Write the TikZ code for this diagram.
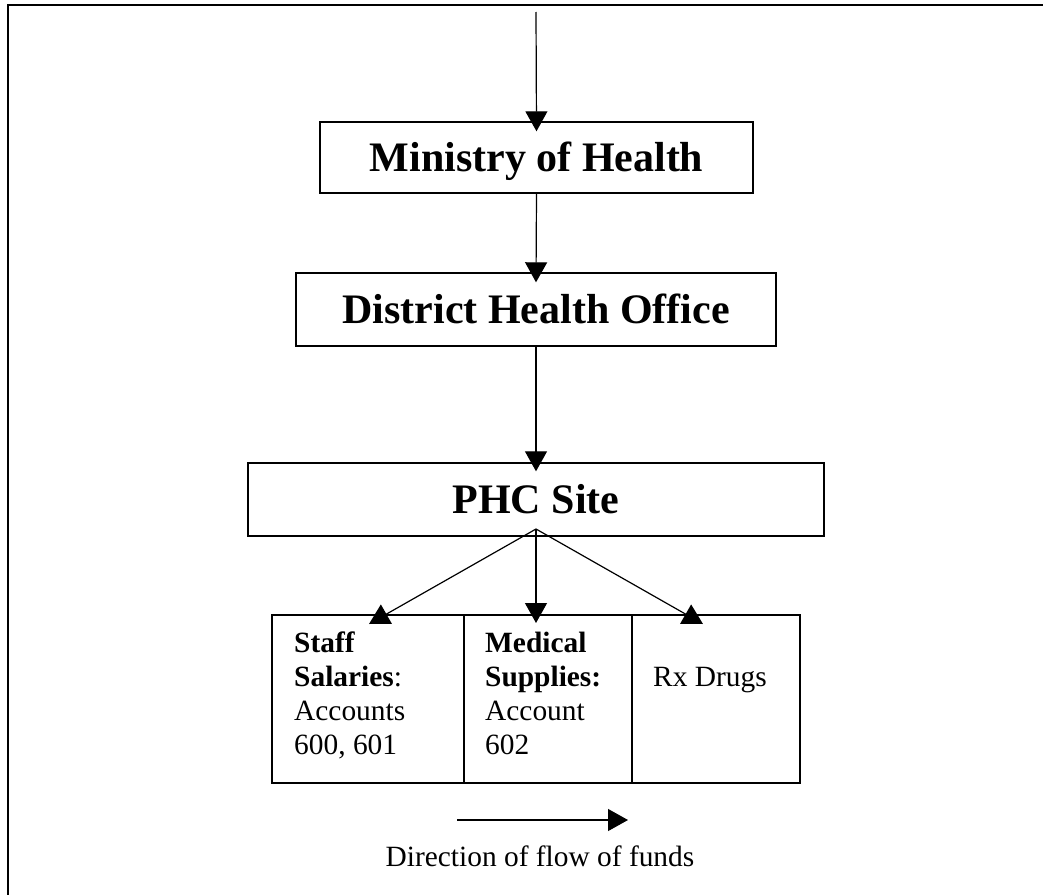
\documentclass[tikz,border=0pt]{standalone}
\usepackage{fontspec}
\setmainfont{Liberation Serif}
\usetikzlibrary{arrows.meta}
\begin{document}
\begin{tikzpicture}[x=1pt,y=-1pt,
  bigbox/.style={draw, line width=1.4pt, inner sep=0pt, font=\fontsize{42}{48}\selectfont\bfseries, text height=27pt, text depth=0pt},
  lowbox/.style={draw, line width=1.4pt, inner sep=0pt, minimum height=168pt},
  flow/.style={line width=1.2pt, -{Triangle[width=22pt,length=20pt]}},
  lowtext/.style={anchor=north west, align=left, inner sep=0pt, font=\fontsize{29.4}{34}\selectfont}]
\useasboundingbox (0,0) rectangle (1043,894);
\clip (0,0) rectangle (1043,894);
\draw[line width=2pt] (8,5) rectangle (1100,950);

\node[bigbox, minimum width=433pt, minimum height=71pt] (mh) at (536.5,157.5) {Ministry of Health};
\node[bigbox, minimum width=480pt, minimum height=73pt] (dho) at (536,309.5) {District Health Office};
\node[bigbox, minimum width=576pt, minimum height=73pt] (phc) at (536,499.5) {PHC Site};
\node[lowbox, minimum width=192pt] (staff) at (368,699) {};
\node[lowbox, minimum width=168pt] (med) at (548,699) {};
\node[lowbox, minimum width=168pt] (rx) at (716,699) {};

\node[lowtext] (staffT) at (294,630) {\rule{0pt}{22pt}\textbf{Staff}\\\textbf{Salaries}:\\Accounts\\600, 601};
\node[lowtext] (medT) at (485,630) {\rule{0pt}{22pt}\textbf{Medical}\\\textbf{Supplies:}\\Account\\602};
\node[lowtext] (rxT) at (653,664) {\rule{0pt}{22pt}Rx Drugs};

\coordinate (src) at (536,12);
\coordinate (apex) at (536,529);
\coordinate (tipS) at (369,624);
\coordinate (tipM) at (536,623);
\coordinate (tipR) at (703,624);
\draw[flow] (src) -- ([yshift=-10pt]mh.north);
\draw[flow] (mh.south) -- ([yshift=-10pt]dho.north);
\draw[flow] (dho.south) -- ([yshift=-9pt]phc.north);
\draw[flow] (apex) -- (tipS);
\draw[flow] (apex) -- (tipM);
\draw[flow] (apex) -- (tipR);

\coordinate (legA) at (457,820);
\coordinate (legB) at (628,820);
\draw[flow] (legA) -- (legB);
\node[anchor=base, font=\fontsize{29.4}{34}\selectfont, inner sep=0pt] (legend) at (540,866) {Direction of flow of funds};
\end{tikzpicture}
\end{document}
